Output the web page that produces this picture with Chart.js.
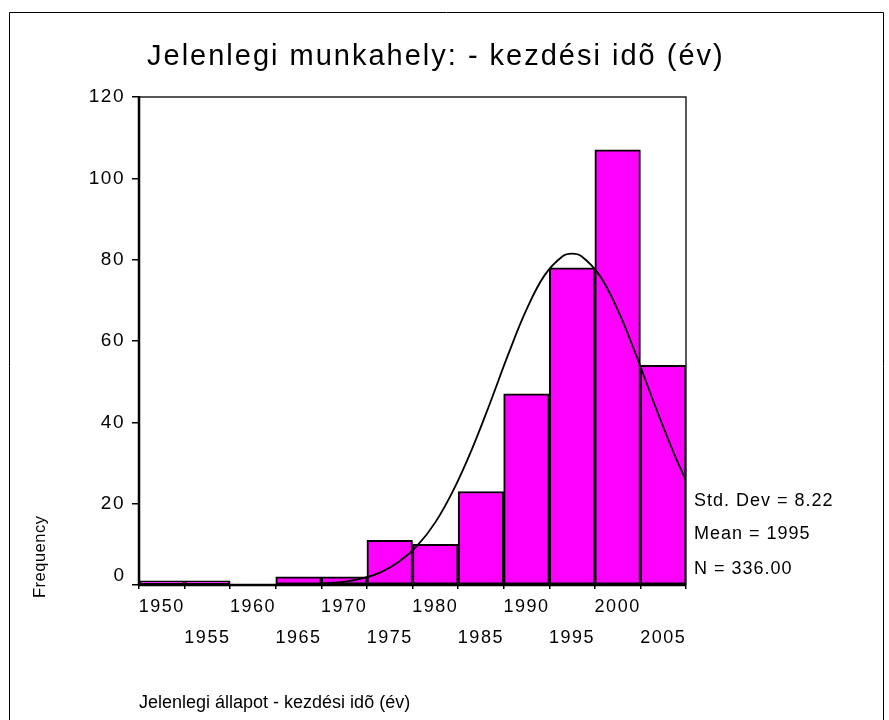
<!DOCTYPE html>
<html>
<head>
<meta charset="utf-8">
<script src="https://cdn.jsdelivr.net/npm/chart.js@4.4.1/dist/chart.umd.min.js"></script>
<style>
  html, body { margin: 0; padding: 0; background: #fff; }
  #wrap { width: 889px; height: 720px; position: relative; }
</style>
</head>
<body>
<div id="wrap"><canvas id="hist" width="889" height="720"></canvas></div>
<script>
// Histogram bins (centre of each 5-year class) and frequencies
const binCentres = [1950, 1955, 1960, 1965, 1970, 1975, 1980, 1985, 1990, 1995, 2000, 2005];
const frequencies = [1, 1, 0, 2, 2, 11, 10, 23, 47, 78, 107, 54];

// Normal curve (year, frequency)
const curveYears = [1966.5, 1968, 1970, 1972, 1974, 1976, 1978, 1980, 1982, 1984, 1986, 1988,
  1990, 1992, 1994, 1995, 1996, 1998, 2000, 2002, 2004, 2006, 2007.5];
const curveValues = [0.2, 0.4, 0.8, 1.6, 3.1, 5.7, 9.6, 15.4, 23.4, 33.3, 44.7, 56.7,
  67.7, 76.2, 80.9, 81.5, 80.9, 76.2, 67.7, 56.7, 44.7, 33.3, 25.6];

const yTicks = [0, 20, 40, 60, 80, 100, 120];
const statLines = ["Std. Dev = 8.22", "Mean = 1995", "N = 336.00"];

const titleText = "Jelenlegi munkahely: - kezdési idõ (év)";
const xTitle = "Jelenlegi állapot - kezdési idõ (év)";
const yTitle = "Frequency";

const font = "'Liberation Sans', Arial, sans-serif";

// SPSS-style text is a little spaced out
const spacing = {
  id: "spacing",
  beforeDraw(chart) {
    chart.ctx.letterSpacing = "1.5px";
  }
};

// draws the frame, titles, stats and the lifted "0" label
const decorations = {
  id: "decorations",
  afterDraw(chart) {
    const ctx = chart.ctx;
    const a = chart.chartArea;
    ctx.save();
    // outer border
    ctx.strokeStyle = "#000";
    ctx.lineWidth = 1;
    ctx.beginPath();
    ctx.moveTo(9.5, 720);
    ctx.lineTo(9.5, 12.5);
    ctx.lineTo(883.5, 12.5);
    ctx.lineTo(883.5, 720);
    ctx.stroke();

    // box around plot: top and right
    ctx.lineWidth = 1.5;
    ctx.strokeStyle = "#222";
    ctx.beginPath();
    ctx.moveTo(a.left, a.top);
    ctx.lineTo(a.right, a.top);
    ctx.lineTo(a.right, a.bottom);
    ctx.stroke();
    // heavy left and bottom axes
    ctx.lineWidth = 2.5;
    ctx.strokeStyle = "#000";
    ctx.beginPath();
    ctx.moveTo(a.left, a.top - 1);
    ctx.lineTo(a.left, a.bottom);
    ctx.lineTo(a.right, a.bottom);
    ctx.stroke();

    ctx.fillStyle = "#000";
    ctx.textAlign = "left";
    ctx.textBaseline = "middle";
    ctx.letterSpacing = "2px";
    ctx.font = "29px " + font;
    ctx.fillText(titleText, 147, 57);

    ctx.letterSpacing = "0px";
    ctx.font = "18px " + font;
    ctx.fillText(xTitle, 139, 703);

    ctx.letterSpacing = "1px";
    statLines.forEach((s, i) => {
      ctx.fillText(s, 694, [501, 534, 569][i]);
    });

    // "0" sits a little above its tick, as in the original
    const y0 = chart.scales.y.getPixelForValue(0);
    ctx.textAlign = "right";
    ctx.letterSpacing = "0px";
    ctx.font = "19px " + font;
    ctx.fillText("0", 124, y0 - 9);

    ctx.translate(40, 598);
    ctx.rotate(-Math.PI / 2);
    ctx.textAlign = "left";
    ctx.letterSpacing = "0.5px";
    ctx.font = "16.5px " + font;
    ctx.fillText(yTitle, 0, 0);
    ctx.restore();
  }
};

new Chart(document.getElementById("hist"), {
  type: "bar",
  plugins: [spacing, decorations],
  data: {
    datasets: [
      {
        type: "line",
        data: curveYears.map((x, i) => ({ x: x, y: curveValues[i] })),
        borderColor: "#000",
        borderWidth: 1.8,
        pointRadius: 0,
        tension: 0.4,
        fill: false,
        order: 0,
      },
      {
        type: "bar",
        data: binCentres.map((x, i) => ({ x: x, y: frequencies[i] })),
        backgroundColor: "#ff00ff",
        borderColor: "#000",
        borderWidth: 2,
        borderSkipped: false,
        barPercentage: 1,
        categoryPercentage: 1,
        order: 1,
      },
    ],
  },
  options: {
    responsive: false,
    animation: false,
    layout: { padding: { left: 9, top: 97, right: 203, bottom: 0 } },
    plugins: {
      legend: { display: false },
      tooltip: { enabled: false },
      title: { display: false },
    },
    scales: {
      x: {
        type: "linear",
        min: 1947.5,
        max: 2007.5,
        offset: false,
        afterBuildTicks: (scale) => {
          scale.ticks = binCentres.map((v) => ({ value: v }));
        },
        afterFit: (scale) => { scale.height = 135; },
        border: { display: false },
        grid: {
          drawOnChartArea: false,
          drawTicks: true,
          tickLength: 4,
          color: "#000",
          lineWidth: 1.5,
        },
        ticks: {
          autoSkip: false,
          maxRotation: 0,
          padding: 3,
          color: "#000",
          font: { family: font, size: 18, lineHeight: "31px" },
          callback: (v) => (Math.round((v - 1950) / 5) % 2 === 0 ? [String(v), ""] : ["", String(v)]),
        },
      },
      y: {
        min: 0,
        max: 120,
        afterBuildTicks: (scale) => {
          scale.ticks = yTicks.map((v) => ({ value: v }));
        },
        afterFit: (scale) => { scale.width = 130; },
        border: { display: false },
        grid: {
          drawOnChartArea: false,
          drawTicks: true,
          tickLength: 7,
          color: "#000",
          lineWidth: 1.5,
        },
        ticks: {
          padding: 7,
          color: "#000",
          font: { family: font, size: 19 },
          callback: (v) => (v === 0 ? "" : String(v)),
        },
      },
    },
  },
});
</script>
</body>
</html>
